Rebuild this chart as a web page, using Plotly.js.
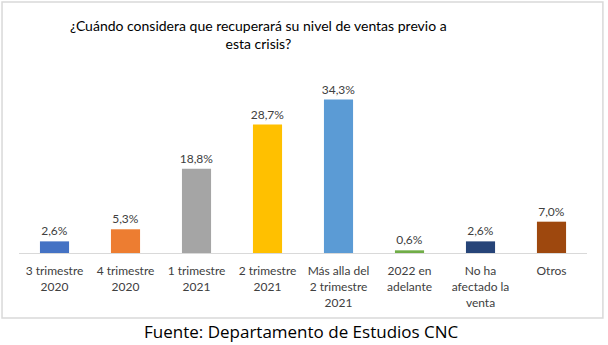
<!DOCTYPE html>
<html><head><meta charset="utf-8">
<script src="https://cdn.plot.ly/plotly-3.0.1.min.js"></script>
<style>html,body{margin:0;padding:0;background:#fff}#chart{width:608px;height:345px}</style>
</head><body><div id="chart"></div>
<script>
const categories = ["3 trimestre<br>2020","4 trimestre<br>2020","1 trimestre<br>2021","2 trimestre<br>2021","Más alla del<br>2 trimestre<br>2021","2022 en<br>adelante","No ha<br>afectado la<br>venta","Otros"];
const values = [2.6, 5.3, 18.8, 28.7, 34.3, 0.6, 2.6, 7.0];
const colors = ["#4472C4","#ED7D31","#A5A5A5","#FFC000","#5B9BD5","#70AD47","#264478","#9E480E"];
const labels = values.map(v => v.toFixed(1).replace('.', ',') + '%');

const font = "Lato, 'Open Sans', sans-serif";
const trace = {
  type: 'bar', x: categories, y: values,
  marker: {color: colors},
  text: labels, textposition: 'outside', cliponaxis: false, constraintext: 'none',
  textfont: {family: font, size: 12, color: '#404040'},
  hoverinfo: 'none'
};
const layout = {
  width: 608, height: 345,
  margin: {l: 19, r: 21, t: 74, b: 92},
  paper_bgcolor: '#fff', plot_bgcolor: '#fff',
  showlegend: false,
  bargap: 0.59,
  title: {text: "¿Cuándo considera que recuperará su nivel de ventas previo a<br>esta crisis?",
          font: {family: font, size: 14, color: '#000'},
          xref: 'container', yref: 'container', x: 0.425, xanchor: 'center', y: 0.91, yanchor: 'middle'},
  xaxis: {type: 'category', showline: true, linecolor: '#D9D9D9', linewidth: 1,
          ticks: '', ticklabelstandoff: 7, tickfont: {family: font, size: 12, color: '#404040'}, fixedrange: true},
  yaxis: {range: [0, 40], visible: false, showgrid: false, zeroline: false, fixedrange: true},
  shapes: [{type: 'rect', xref: 'paper', yref: 'paper', x0: -0.0299, x1: 1.028, y0: -0.363, y1: 1.402,
            line: {color: '#D9D9D9', width: 1.5}, fillcolor: 'rgba(0,0,0,0)'}],
  annotations: [{text: 'Fuente: Departamento de Estudios CNC', xref: 'paper', yref: 'paper',
                 x: 0.498, y: -0.436, xanchor: 'center', yanchor: 'middle', showarrow: false,
                 font: {family: "'Open Sans', sans-serif", size: 17, color: '#000'}}]
};
Plotly.newPlot('chart', [trace], layout, {displayModeBar: false, staticPlot: true});
</script></body></html>
